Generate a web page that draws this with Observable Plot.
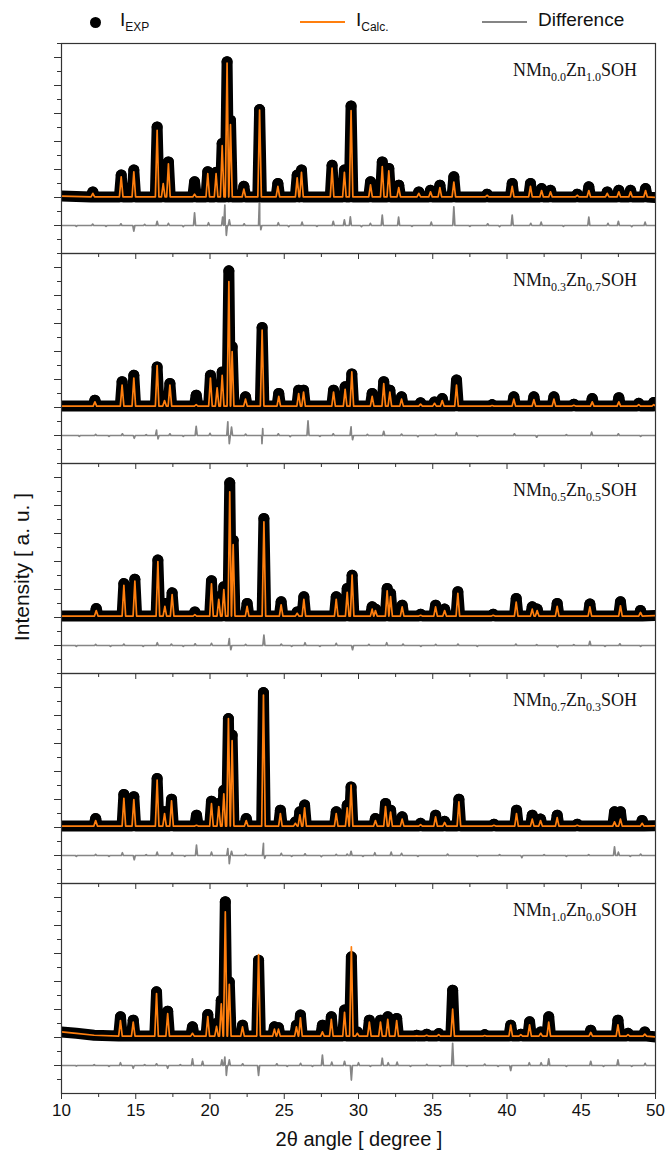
<!DOCTYPE html>
<html>
<head>
<meta charset="utf-8">
<script src="https://cdn.jsdelivr.net/npm/d3@7"></script>
<script src="https://cdn.jsdelivr.net/npm/@observablehq/plot@0.6"></script>
<style>
  body { margin: 0; background: #fff; }
  #wrap { position: relative; width: 667px; height: 1157px; font-family: "Liberation Sans", Arial, sans-serif; }
  .abs { position: absolute; }
  .leg { font-size: 19px; color: #111; white-space: nowrap; }
  .leg sub { font-size: 12px; vertical-align: -5px; }
  .lab { font-family: "Liberation Serif", "Times New Roman", serif; font-size: 18px; color: #111; white-space: nowrap; text-align: right; }
  .lab sub { font-size: 12px; vertical-align: -5px; }
  svg { overflow: visible; }
</style>
</head>
<body>
<div id="wrap">
  <div id="panels" class="abs" style="left:0;top:43px;"></div>
</div>
<script>
// ---------- data ----------
// sample compositions (Mn, Zn) for the five panels, top to bottom
const mnFrac = ["0.0", "0.3", "0.5", "0.7", "1.0"];
const znFrac = ["1.0", "0.7", "0.5", "0.3", "0.0"];
const xTicks = [10, 15, 20, 25, 30, 35, 40, 45, 50];
const legendNames = ["EXP", "Calc.", "Difference"];

// baseline level of each pattern (a.u.) and of the difference curve
const patternBase = [2.02, 2.05, 2.05, 2.05, 2.05];
const diffBase = 1.0;

// background points (2θ, intensity)
const bg1 = [[10, 2.05], [50, 2.0]];
const bg2 = [[10, 2.05], [50, 2.06]];
const bg3 = [[10, 2.05], [50, 2.07]];
const bg4 = [[10, 2.05], [50, 2.06]];
const bg5 = [[10, 2.2], [11, 2.15], [12.2, 2.08], [50, 2.02]];

// peaks: [2θ, I_exp, I_calc]
const peaks1 = [
  [12.11, 2.2, 2.15], [14.02, 2.8, 2.74], [14.87, 2.98, 2.92], [16.44, 4.52, 4.4], [16.85, 2.6, 2.5],
  [17.2, 3.27, 3.2], [18.96, 2.56, 2.12], [19.85, 2.92, 2.85], [20.41, 2.9, 2.85], [20.82, 3.93, 3.85],
  [21.15, 6.85, 6.8], [21.38, 4.76, 4.6], [22.28, 2.4, 2.3], [23.34, 5.14, 5.12], [24.57, 2.5, 2.4],
  [25.87, 2.8, 2.7], [26.16, 2.98, 2.9], [28.22, 3.15, 3.05], [29.05, 2.98, 2.9], [29.5, 5.27, 5.1],
  [30.81, 2.56, 2.45], [31.6, 3.27, 3.1], [32.04, 3.04, 2.95], [32.71, 2.44, 2.35], [34.06, 2.2, 2.15],
  [34.85, 2.26, 2.2], [35.48, 2.44, 2.35], [36.42, 2.74, 2.55], [38.66, 2.12, 2.08], [40.35, 2.5, 2.4],
  [41.58, 2.5, 2.4], [42.33, 2.32, 2.25], [42.93, 2.26, 2.2], [44.73, 2.12, 2.08], [45.51, 2.38, 2.25],
  [46.75, 2.2, 2.15], [47.53, 2.26, 2.2], [48.32, 2.26, 2.2], [49.33, 2.32, 2.25]
];
const peaks2 = [
  [12.25, 2.26, 2.2], [14.08, 2.92, 2.8], [14.87, 3.15, 3.05], [16.44, 3.45, 3.5], [16.94, 2.32, 2.25],
  [17.3, 2.86, 2.8], [19.07, 2.44, 2.1], [20.03, 3.15, 3.05], [20.48, 2.8, 2.7], [20.82, 3.27, 3.15],
  [21.27, 6.88, 6.5], [21.49, 4.17, 4.0], [22.39, 2.38, 2.3], [23.51, 4.86, 4.76], [24.63, 2.5, 2.4],
  [25.97, 2.62, 2.5], [26.3, 2.62, 2.55], [28.32, 2.62, 2.55], [29.1, 2.74, 2.65], [29.55, 3.2, 3.27],
  [30.92, 2.5, 2.4], [31.7, 2.92, 2.85], [32.11, 2.62, 2.55], [32.9, 2.38, 2.3], [34.18, 2.17, 2.12],
  [35.12, 2.2, 2.15], [35.64, 2.32, 2.25], [36.6, 2.98, 2.8], [39.0, 2.1, 2.07], [40.46, 2.38, 2.3],
  [41.81, 2.38, 2.28], [43.16, 2.38, 2.3], [44.5, 2.12, 2.08], [45.74, 2.32, 2.2], [47.53, 2.35, 2.2],
  [48.87, 2.15, 2.1], [49.88, 2.18, 2.1]
];
const peaks3 = [
  [12.34, 2.32, 2.25], [14.2, 3.21, 3.15], [14.94, 3.37, 3.3], [16.49, 4.05, 4.0], [16.96, 2.5, 2.4],
  [17.45, 2.88, 2.82], [18.98, 2.2, 2.1], [20.1, 3.31, 3.2], [20.59, 2.74, 2.65], [20.93, 3.1, 3.0],
  [21.33, 6.81, 6.49], [21.56, 4.76, 4.6], [22.5, 2.5, 2.4], [23.63, 5.54, 5.42], [24.79, 2.56, 2.45],
  [25.87, 2.2, 2.15], [26.32, 2.74, 2.65], [28.5, 2.74, 2.65], [29.24, 3.04, 2.9], [29.57, 3.51, 3.51],
  [30.92, 2.38, 2.3], [31.14, 2.3, 2.25], [31.93, 3.04, 2.95], [32.16, 2.86, 2.75], [32.94, 2.44, 2.38],
  [34.18, 2.12, 2.08], [35.19, 2.44, 2.38], [35.8, 2.3, 2.25], [36.69, 2.92, 2.86], [39.07, 2.12, 2.08],
  [40.62, 2.68, 2.55], [41.7, 2.38, 2.3], [42.03, 2.3, 2.25], [43.38, 2.5, 2.4], [45.58, 2.48, 2.38],
  [47.64, 2.56, 2.42], [48.99, 2.25, 2.18]
];
const peaks4 = [
  [12.3, 2.32, 2.25], [14.2, 3.18, 3.04], [14.87, 3.1, 3.0], [16.44, 3.75, 3.69], [16.94, 2.56, 2.5],
  [17.41, 3.01, 2.95], [19.09, 2.44, 2.08], [20.1, 2.94, 2.85], [20.59, 2.86, 2.75], [20.93, 3.33, 3.2],
  [21.24, 5.89, 5.89], [21.49, 5.3, 5.1], [22.44, 2.32, 2.25], [23.6, 6.82, 6.73], [24.74, 2.62, 2.5],
  [25.75, 2.2, 2.15], [26.05, 2.56, 2.45], [26.37, 2.8, 2.7], [28.5, 2.56, 2.5], [29.24, 2.8, 2.7],
  [29.5, 3.45, 3.51], [31.14, 2.32, 2.25], [31.82, 2.86, 2.75], [32.16, 2.62, 2.55], [32.94, 2.38, 2.3],
  [34.18, 2.15, 2.1], [35.19, 2.44, 2.38], [35.8, 2.22, 2.18], [36.76, 3.01, 2.92], [39.12, 2.12, 2.08],
  [40.64, 2.62, 2.5], [41.7, 2.44, 2.3], [42.26, 2.3, 2.25], [43.38, 2.44, 2.35], [44.73, 2.12, 2.08],
  [47.24, 2.56, 2.2], [47.64, 2.56, 2.3], [49.1, 2.25, 2.15]
];
const peaks5 = [
  [13.97, 2.74, 2.6], [14.83, 2.62, 2.55], [16.4, 3.63, 3.57], [17.15, 2.94, 2.85], [18.82, 2.38, 2.15],
  [19.85, 2.82, 2.75], [20.44, 2.5, 2.4], [20.76, 3.33, 3.2], [21.03, 6.85, 6.49], [21.3, 3.99, 3.9],
  [22.19, 2.44, 2.38], [23.27, 4.76, 4.96], [24.34, 2.38, 2.3], [24.61, 2.35, 2.3], [25.82, 2.44, 2.38],
  [26.09, 2.8, 2.7], [27.57, 2.44, 2.2], [28.17, 2.74, 2.65], [29.06, 2.98, 2.9], [29.52, 4.88, 5.24],
  [29.92, 2.2, 2.15], [30.73, 2.62, 2.55], [31.48, 2.62, 2.55], [31.97, 2.74, 2.65], [32.57, 2.68, 2.6],
  [33.92, 2.08, 2.06], [34.59, 2.12, 2.08], [35.4, 2.14, 2.1], [36.34, 3.69, 3.01], [38.5, 2.1, 2.07],
  [40.25, 2.44, 2.44], [40.93, 2.12, 2.1], [41.52, 2.56, 2.45], [42.27, 2.2, 2.15], [42.81, 2.74, 2.55],
  [45.64, 2.26, 2.18], [47.47, 2.62, 2.45], [48.15, 2.15, 2.1], [49.28, 2.2, 2.12]
];

// difference curve features: [2θ, I_exp - I_calc + offset]
const diff1 = [
  [11.0, 0.97], [12.1, 1.05], [13.0, 0.97], [14.0, 1.06], [14.87, 0.8], [15.6, 1.04], [16.44, 1.15], [17.2, 1.08],
  [18.2, 0.96], [18.96, 1.45], [19.9, 1.1], [20.85, 1.3], [21.0, 1.73], [21.1, 0.65], [21.3, 1.2], [22.3, 1.06],
  [23.34, 2.12], [23.42, 0.85], [24.6, 1.1], [25.3, 0.96], [26.2, 1.12], [27.2, 0.97], [28.3, 1.15], [29.05, 1.2],
  [29.45, 1.31], [30.2, 0.96], [30.8, 1.08], [31.6, 1.37], [32.7, 1.3], [33.6, 0.97], [34.9, 1.12], [36.42, 1.67],
  [37.5, 0.97], [38.7, 1.06], [39.5, 0.96], [40.35, 1.37], [41.6, 1.08], [42.3, 1.12], [43.8, 0.97], [45.51, 1.3],
  [46.8, 1.08], [47.5, 1.15], [48.4, 0.96], [49.3, 1.12]
];
const diff2 = [
  [11.2, 0.97], [12.3, 1.04], [13.2, 0.97], [14.1, 1.06], [14.9, 0.9], [15.7, 1.03], [16.4, 1.19], [16.5, 0.88],
  [17.3, 1.06], [18.2, 0.97], [19.07, 1.33], [20.0, 1.08], [21.2, 1.49], [21.3, 0.71], [21.45, 1.3], [22.4, 1.05],
  [23.5, 0.71], [23.55, 1.25], [24.6, 1.06], [25.4, 0.96], [26.6, 1.52], [27.4, 0.97], [28.3, 1.06], [29.5, 1.31],
  [29.6, 0.85], [30.6, 1.04], [31.7, 1.15], [32.9, 1.05], [34.0, 0.96], [35.2, 1.04], [36.6, 1.1], [38.0, 0.97],
  [40.5, 1.06], [42.0, 0.94], [44.0, 1.03], [45.7, 1.12], [47.5, 1.06], [49.0, 0.97]
];
const diff3 = [
  [11.0, 0.97], [12.3, 1.04], [13.3, 0.97], [14.2, 1.05], [15.5, 0.97], [16.45, 1.1], [17.4, 1.05], [18.2, 0.97],
  [19.0, 1.06], [20.1, 1.08], [21.3, 1.25], [21.4, 0.85], [22.4, 1.04], [23.63, 1.37], [24.8, 1.05], [25.5, 0.97],
  [26.4, 1.1], [27.4, 0.97], [28.5, 1.08], [29.6, 0.85], [30.7, 1.04], [31.9, 1.1], [33.0, 1.05], [34.2, 0.97],
  [35.2, 1.04], [36.7, 1.05], [38.0, 0.97], [40.6, 1.05], [42.0, 1.03], [43.4, 0.95], [44.5, 1.03], [45.58, 1.15],
  [46.6, 0.97], [47.6, 1.06], [49.0, 0.97]
];
const diff4 = [
  [11.0, 0.97], [12.3, 1.04], [13.2, 0.97], [14.1, 1.1], [14.9, 0.85], [15.7, 1.03], [16.44, 1.12], [17.45, 1.1],
  [18.3, 0.97], [19.09, 1.37], [20.1, 1.12], [21.2, 1.25], [21.3, 0.71], [21.45, 1.15], [22.4, 1.04], [23.6, 1.43],
  [23.68, 0.9], [24.8, 1.08], [25.5, 0.97], [26.4, 1.06], [27.5, 0.96], [28.5, 1.04], [29.24, 1.05], [29.5, 1.15],
  [30.3, 0.97], [31.1, 1.1], [32.2, 1.12], [32.9, 1.08], [34.0, 0.97], [36.0, 1.05], [38.0, 0.97], [39.5, 1.03],
  [41.0, 0.92], [42.5, 1.03], [44.0, 0.97], [45.5, 1.03], [47.24, 1.31], [47.5, 1.12], [48.3, 0.97], [49.0, 1.05]
];
const diff5 = [
  [11.0, 0.98], [12.2, 1.03], [13.2, 0.97], [13.97, 1.1], [14.83, 0.9], [15.6, 1.03], [16.4, 1.06], [17.15, 0.9],
  [18.0, 1.03], [18.82, 1.24], [19.5, 1.15], [20.8, 1.2], [21.0, 1.3], [21.1, 0.65], [21.3, 1.2], [22.2, 1.06],
  [23.27, 0.65], [24.5, 1.06], [25.2, 0.97], [26.1, 1.08], [26.9, 0.97], [27.57, 1.37], [28.2, 1.12], [29.06, 1.15],
  [29.52, 0.48], [30.0, 1.1], [30.8, 0.97], [31.6, 1.26], [32.0, 1.1], [32.6, 1.12], [33.5, 0.97], [34.6, 1.04],
  [35.5, 0.97], [36.34, 1.79], [37.3, 0.97], [38.5, 1.05], [39.4, 0.97], [40.25, 0.82], [41.5, 1.1], [42.3, 1.1],
  [42.81, 1.24], [44.0, 0.97], [45.64, 1.15], [46.5, 0.97], [47.47, 1.2], [48.4, 0.97], [49.3, 1.08]
];

const allPeaks = [peaks1, peaks2, peaks3, peaks4, peaks5];
const allBg = [bg1, bg2, bg3, bg4, bg5];
const allDiff = [diff1, diff2, diff3, diff4, diff5];

// ---------- drawing ----------
const ORANGE = "#ff7f0e";
const FRAME = "#333";

function profile(peaks, bg, base, col, w) {
  const pts = bg.map(([x, y]) => ({x, y}));
  peaks.forEach(p => {
    pts.push({x: p[0] - w, y: base}, {x: p[0], y: p[col]}, {x: p[0] + w, y: base});
  });
  return pts.sort((a, b) => a.x - b.x);
}
function diffProfile(spikes, base, w) {
  const pts = [{x: 10, y: base}, {x: 50, y: base}];
  spikes.forEach(([x, y]) => pts.push({x: x - w, y: base}, {x, y}, {x: x + w, y: base}));
  return pts.sort((a, b) => a.x - b.x);
}

const panels = document.getElementById("panels");
const PH = 210;
for (let i = 0; i < 5; i++) {
  const last = i === 4;
  const exp = profile(allPeaks[i], allBg[i], patternBase[i], 1, 0.12);
  const calc = profile(allPeaks[i], allBg[i], patternBase[i], 2, 0.12);
  const dif = diffProfile(allDiff[i], diffBase, 0.07);
  const apex = allPeaks[i].map(p => ({x: p[0], y: p[1]}));
  const chart = Plot.plot({
    width: 667,
    height: PH + (last ? 70 : 0),
    marginLeft: 61,
    marginRight: 12,
    marginTop: 0,
    marginBottom: last ? 70 : 0,
    style: {background: "transparent", overflow: "visible", fontFamily: "'Liberation Sans', Arial, sans-serif", fontSize: "17px", color: "#111"},
    x: {domain: [10, 50]},
    y: {domain: [0, 7.5]},
    marks: [
      Plot.line(dif, {x: "x", y: "y", stroke: "#858585", strokeWidth: 1.7, clip: true}),
      Plot.line(exp, {x: "x", y: "y", stroke: "#000", strokeWidth: 11, strokeLinejoin: "round", strokeLinecap: "round", clip: true}),
      Plot.dot(apex, {x: "x", y: "y", r: 5.5, fill: "#000", clip: true}),
      Plot.line(calc, {x: "x", y: "y", stroke: ORANGE, strokeWidth: 1.7, clip: true}),
      Plot.frame({stroke: FRAME, strokeWidth: 1.2}),
      Plot.axisY({ticks: d3.range(1, 8), tickSize: 7, tickFormat: () => "", label: null, stroke: FRAME}),
      Plot.axisY({ticks: d3.range(0.5, 7.6, 1), tickSize: 4, tickFormat: () => "", label: null, stroke: FRAME}),
      Plot.axisX({ticks: xTicks, tickSize: 6, tickPadding: 4, tickFormat: last ? (d => String(d)) : (() => ""), label: null, stroke: FRAME, fontSize: 17}),
      Plot.axisX({ticks: d3.range(12.5, 50, 5), tickSize: 4, tickFormat: () => "", label: null, stroke: FRAME})
    ]
  });
  chart.style.display = "block";
  panels.appendChild(chart);
}

// ---------- text overlays ----------
const wrap = document.getElementById("wrap");
function addHTML(html, css, cls) {
  const d = document.createElement("div");
  d.className = "abs " + (cls || "");
  d.innerHTML = html;
  Object.assign(d.style, css);
  wrap.appendChild(d);
  return d;
}
// legend
addHTML("", {left: "90px", top: "17px", width: "11px", height: "11px", borderRadius: "50%", background: "#000"});
addHTML("I<sub>" + legendNames[0] + "</sub>", {left: "120px", top: "9px"}, "leg");
addHTML("", {left: "300px", top: "21px", width: "45px", height: "2px", background: ORANGE});
addHTML("I<sub>" + legendNames[1] + "</sub>", {left: "356px", top: "9px"}, "leg");
addHTML("", {left: "482px", top: "21px", width: "45px", height: "2px", background: "#858585"});
addHTML(legendNames[2], {left: "538px", top: "9px"}, "leg");

// sample labels
for (let i = 0; i < 5; i++) {
  addHTML("NMn<sub>" + mnFrac[i] + "</sub>Zn<sub>" + znFrac[i] + "</sub>SOH",
    {right: "30px", top: (43 + i * PH + 17) + "px"}, "lab");
}
// axis titles
addHTML("Intensity [ a. u. ]", {left: "22px", top: "567px", transform: "translate(-50%,-50%) rotate(-90deg)", fontSize: "21px", whiteSpace: "nowrap", color: "#111"});
addHTML("2θ angle [ degree ]", {left: "359px", top: "1139px", transform: "translate(-50%,-50%)", fontSize: "20px", whiteSpace: "nowrap", color: "#111"});
</script>
</body>
</html>
